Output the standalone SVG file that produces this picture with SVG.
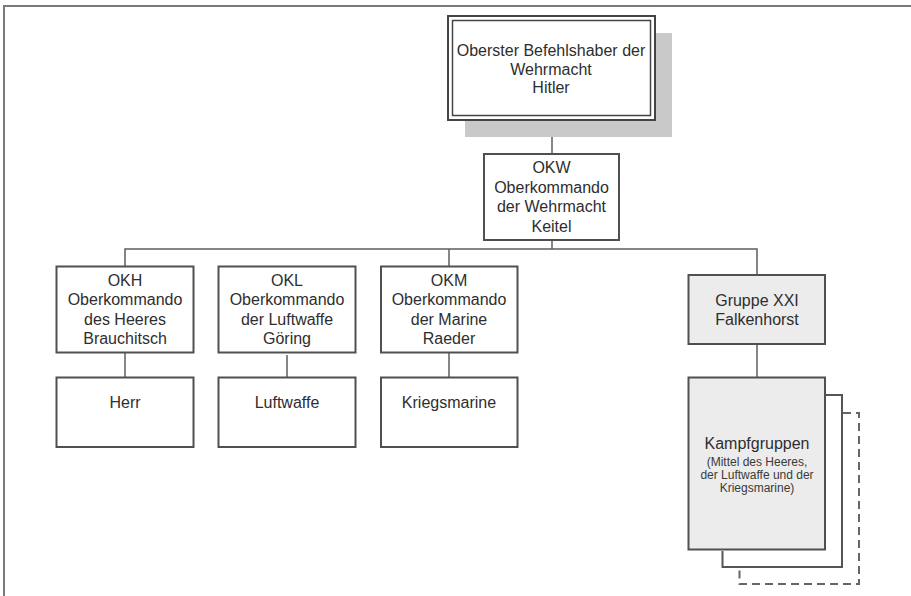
<svg xmlns="http://www.w3.org/2000/svg" width="911" height="596" viewBox="0 0 911 596">
<style>
  .box{fill:#ffffff;stroke:#505050;stroke-width:2}
  .grey{fill:#ececec;stroke:#505050;stroke-width:2}
  .t{font-family:"Liberation Sans",Arial,sans-serif;font-size:16px;fill:#2e2e2e;text-anchor:middle}
  .s{font-family:"Liberation Sans",Arial,sans-serif;font-size:12px;fill:#3a3a3a;text-anchor:middle}
  .c{fill:none;stroke:#5e5e5e;stroke-width:1.5}
</style>
<rect width="911" height="596" fill="#ffffff"/>
<path d="M4 596 V6 H911" fill="none" stroke="#7a7a7a" stroke-width="2"/>

<g id="connectors">
  <path class="c" d="M552 120 V154"/>
  <path class="c" d="M552 240 V249"/>
  <path class="c" d="M125 266 V249 H757 V275"/>
  <path class="c" d="M449 249 V266"/>
  <path class="c" d="M125 353 V377"/>
  <path class="c" d="M287 355 V377"/>
  <path class="c" d="M449 353 V377"/>
  <path class="c" d="M757 344 V377"/>
</g>

<g id="hitler">
  <rect x="465" y="33" width="207" height="104" fill="#c9c9c9"/>
  <rect x="448" y="16" width="207" height="104" fill="#ffffff" stroke="#444" stroke-width="2"/>
  <rect x="452.5" y="20.5" width="198" height="95" fill="none" stroke="#444" stroke-width="1.5"/>
  <text class="t" x="551" y="56">Oberster Befehlshaber der</text>
  <text class="t" x="551" y="74.5">Wehrmacht</text>
  <text class="t" x="551" y="93">Hitler</text>
</g>

<g id="okw">
  <rect class="box" x="484" y="154" width="135" height="86"/>
  <text class="t" x="551.5" y="173">OKW</text>
  <text class="t" x="551.5" y="192.5">Oberkommando</text>
  <text class="t" x="551.5" y="212">der Wehrmacht</text>
  <text class="t" x="551.5" y="231.5">Keitel</text>
</g>

<g id="okh">
  <rect class="box" x="56.5" y="266.5" width="137" height="86"/>
  <text class="t" x="125" y="285.5">OKH</text>
  <text class="t" x="125" y="305">Oberkommando</text>
  <text class="t" x="125" y="324.5">des Heeres</text>
  <text class="t" x="125" y="343.5">Brauchitsch</text>
</g>

<g id="okl">
  <rect class="box" x="218.5" y="266.5" width="137" height="86"/>
  <text class="t" x="287" y="285.5">OKL</text>
  <text class="t" x="287" y="305">Oberkommando</text>
  <text class="t" x="287" y="324.5">der Luftwaffe</text>
  <text class="t" x="287" y="343.5">Göring</text>
</g>

<g id="okm">
  <rect class="box" x="381" y="266.5" width="136.5" height="86"/>
  <text class="t" x="449" y="285.5">OKM</text>
  <text class="t" x="449" y="305">Oberkommando</text>
  <text class="t" x="449" y="324.5">der Marine</text>
  <text class="t" x="449" y="343.5">Raeder</text>
</g>

<g id="gruppe">
  <rect class="grey" x="688.5" y="275" width="136.5" height="69"/>
  <text class="t" x="757" y="305.5">Gruppe XXI</text>
  <text class="t" x="757" y="325">Falkenhorst</text>
</g>

<g id="herr">
  <rect class="box" x="56.5" y="377.5" width="137" height="69.5"/>
  <text class="t" x="125" y="407.5">Herr</text>
</g>

<g id="luftwaffe">
  <rect class="box" x="218.5" y="377.5" width="137" height="69.5"/>
  <text class="t" x="287" y="407.5">Luftwaffe</text>
</g>

<g id="kriegsmarine">
  <rect class="box" x="381" y="377.5" width="136.5" height="69.5"/>
  <text class="t" x="449" y="407.5">Kriegsmarine</text>
</g>

<g id="kampfgruppen">
  <path d="M843 413 H859 V584 H739.5 V568" fill="none" stroke="#666" stroke-width="2" stroke-dasharray="8 5"/>
  <path d="M825 395 H842 V567 H722.5 V551" fill="none" stroke="#555" stroke-width="2"/>
  <rect class="grey" x="688.5" y="377.5" width="136.5" height="172"/>
  <text class="t" x="757" y="448.5">Kampfgruppen</text>
  <text class="s" x="757" y="465.5">(Mittel des Heeres,</text>
  <text class="s" x="757" y="478.5">der Luftwaffe und der</text>
  <text class="s" x="757" y="491.5">Kriegsmarine)</text>
</g>
</svg>
